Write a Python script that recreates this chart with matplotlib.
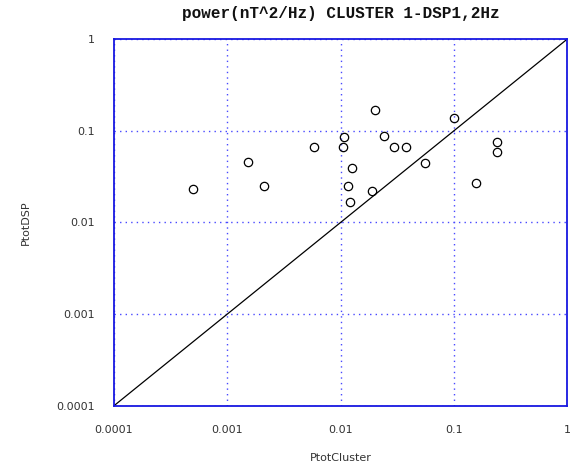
import matplotlib
matplotlib.use("Agg")
import matplotlib.pyplot as plt
from matplotlib.ticker import FixedLocator, FixedFormatter, NullLocator

ptot_cluster = [4.94e-4, 1.53e-3, 2.09e-3, 5.83e-3, 0.01052, 0.01074, 0.01157, 0.01205,
                0.01256, 0.01884, 0.0203, 0.0240, 0.0294, 0.0381, 0.0556, 0.101,
                0.158, 0.243, 0.243]
ptot_dsp = [0.0234, 0.0461, 0.0250, 0.0673, 0.0662, 0.0857, 0.0252, 0.01686,
            0.0396, 0.0221, 0.169, 0.0873, 0.0673, 0.0662, 0.0447, 0.139,
            0.0272, 0.0757, 0.0593]
diag = [1e-4, 1.0]
tick_values = [1e-4, 1e-3, 1e-2, 1e-1, 1.0]
tick_labels = ["0.0001", "0.001", "0.01", "0.1", "1"]

fig = plt.figure(figsize=(5.77, 4.70), dpi=100)
ax = fig.add_axes([0.1976, 0.1368, 0.7851, 0.7796])
ax.set_xscale("log")
ax.set_yscale("log")
ax.set_xlim(1e-4, 1)
ax.set_ylim(1e-4, 1)

ax.plot(diag, diag, color="black", lw=0.9, zorder=2)
ax.plot(ptot_cluster, ptot_dsp, linestyle="none", marker="o", markersize=6,
        markerfacecolor="none", markeredgecolor="black", markeredgewidth=0.9, zorder=3)

for axis in (ax.xaxis, ax.yaxis):
    axis.set_major_locator(FixedLocator(tick_values))
    axis.set_major_formatter(FixedFormatter(tick_labels))
    axis.set_minor_locator(NullLocator())
ax.tick_params(axis="both", which="major", length=0, labelsize=8, labelcolor="#333333")
ax.tick_params(axis="x", pad=14)
ax.tick_params(axis="y", pad=14)
ax.grid(True, which="major", color="#4848ff", linestyle=(0, (1, 3)), linewidth=1.0)
for sp in ax.spines.values():
    sp.set_color("#1818e0")
    sp.set_linewidth(1.3)

ax.set_title("power(nT^2/Hz) CLUSTER 1-DSP1,2Hz", family="Liberation Mono",
             fontweight="bold", fontsize=11.5, pad=15, color="#111111")
ax.set_xlabel("PtotCluster", fontsize=8, labelpad=13, color="#333333")
ax.set_ylabel("PtotDSP", fontsize=8, labelpad=18, color="#333333")

fig.savefig("out.png", dpi=100)
